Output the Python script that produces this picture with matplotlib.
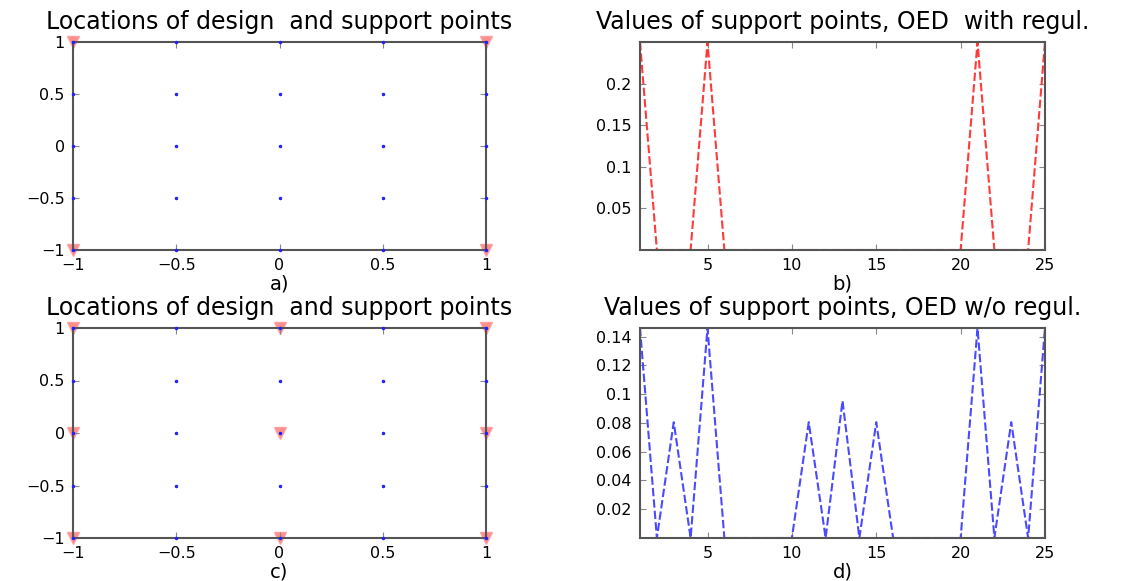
import numpy as np
import matplotlib
matplotlib.use('Agg')
import matplotlib.pyplot as plt

plt.rcParams['font.family'] = ['DejaVu Sans']

# candidate design grid (5 x 5)
grid_vals = [-1, -0.5, 0, 0.5, 1]

# support points, OED with regularisation (panel a)
supp_a_x = [-1, 1, -1, 1]
supp_a_y = [-1, -1, 1, 1]

# support points, OED without regularisation (panel c)
supp_c_x = [-1, 0, 1, -1, 0, 1, -1, 0, 1]
supp_c_y = [-1, -1, -1, 0, 0, 0, 1, 1, 1]

# weights of the 25 grid points
idx = np.arange(1, 26)
w_reg = [0.25, 0, 0, 0, 0.25, 0, 0, 0, 0, 0, 0, 0, 0, 0, 0, 0, 0, 0, 0, 0,
         0.25, 0, 0, 0, 0.25]
w_noreg = [0.146, 0, 0.0805, 0, 0.146, 0, 0, 0, 0, 0, 0.0805, 0, 0.0954, 0,
           0.0805, 0, 0, 0, 0, 0, 0.146, 0, 0.0805, 0, 0.146]

gx, gy = np.meshgrid(grid_vals, grid_vals)

fig = plt.figure(figsize=(11.31, 5.81), dpi=100)

ax_pos = {
    'a': [73/1131, 1-250/581, 413/1131, 208/581],
    'b': [640/1131, 1-250/581, 405/1131, 208/581],
    'c': [73/1131, 1-538/581, 413/1131, 210/581],
    'd': [640/1131, 1-538/581, 405/1131, 210/581],
}

title_loc = 'Locations of design  and support points'
title_reg = 'Values of support points, OED  with regul.'
title_noreg = 'Values of support points, OED w/o regul.'


def style(ax):
    for s in ax.spines.values():
        s.set_color('#555555')
        s.set_linewidth(1.5)
    ax.tick_params(direction='in', top=True, right=True, length=4,
                   color='#888888', labelsize=11.5)
    ax.tick_params(axis='x', pad=6)
    ax.tick_params(axis='y', pad=6)


for key, sx, sy, lab in [('a', supp_a_x, supp_a_y, 'a)'),
                         ('c', supp_c_x, supp_c_y, 'c)')]:
    ax = fig.add_axes(ax_pos[key])
    ax.plot(sx, sy, 'v', color='#ff7a7a', ms=9, mec='#ff9a9a', alpha=0.85,
            clip_on=False, zorder=1)
    ax.plot(gx.ravel(), gy.ravel(), '.', color='#2020ff', ms=3, clip_on=False,
            zorder=3)
    ax.set_xlim(-1, 1)
    ax.set_ylim(-1, 1)
    ax.set_xticks([-1, -0.5, 0, 0.5, 1])
    ax.set_xticklabels(['\u22121', '\u22120.5', '0', '0.5', '1'])
    ax.set_yticks([-1, -0.5, 0, 0.5, 1])
    ax.set_yticklabels(['\u22121', '\u22120.5', '0', '0.5', '1'])
    ax.set_title(title_loc, fontsize=17, pad=9)
    ax.set_xlabel(lab, fontsize=14, labelpad=0.5)
    style(ax)

ax = fig.add_axes(ax_pos['b'])
ax.plot(idx, w_reg, '--', color='#ff3a3a', lw=1.5, dashes=(4, 1.5))
ax.set_xlim(1, 25)
ax.set_ylim(0, 0.25)
ax.set_xticks([5, 10, 15, 20, 25])
ax.set_yticks([0.05, 0.1, 0.15, 0.2])
ax.set_yticklabels(['0.05', '0.1', '0.15', '0.2'])
ax.set_title(title_reg, fontsize=17, pad=9)
ax.set_xlabel('b)', fontsize=14, labelpad=0.5)
style(ax)

ax = fig.add_axes(ax_pos['d'])
ax.plot(idx, w_noreg, '--', color='#4a4aff', lw=1.5, dashes=(4, 1.5))
ax.set_xlim(1, 25)
ax.set_ylim(0, 0.146)
ax.set_xticks([5, 10, 15, 20, 25])
ax.set_yticks([0.02, 0.04, 0.06, 0.08, 0.1, 0.12, 0.14])
ax.set_yticklabels(['0.02', '0.04', '0.06', '0.08', '0.1', '0.12', '0.14'])
ax.set_title(title_noreg, fontsize=17, pad=9)
ax.set_xlabel('d)', fontsize=14, labelpad=0.5)
style(ax)

fig.savefig('out.png', dpi=100)
